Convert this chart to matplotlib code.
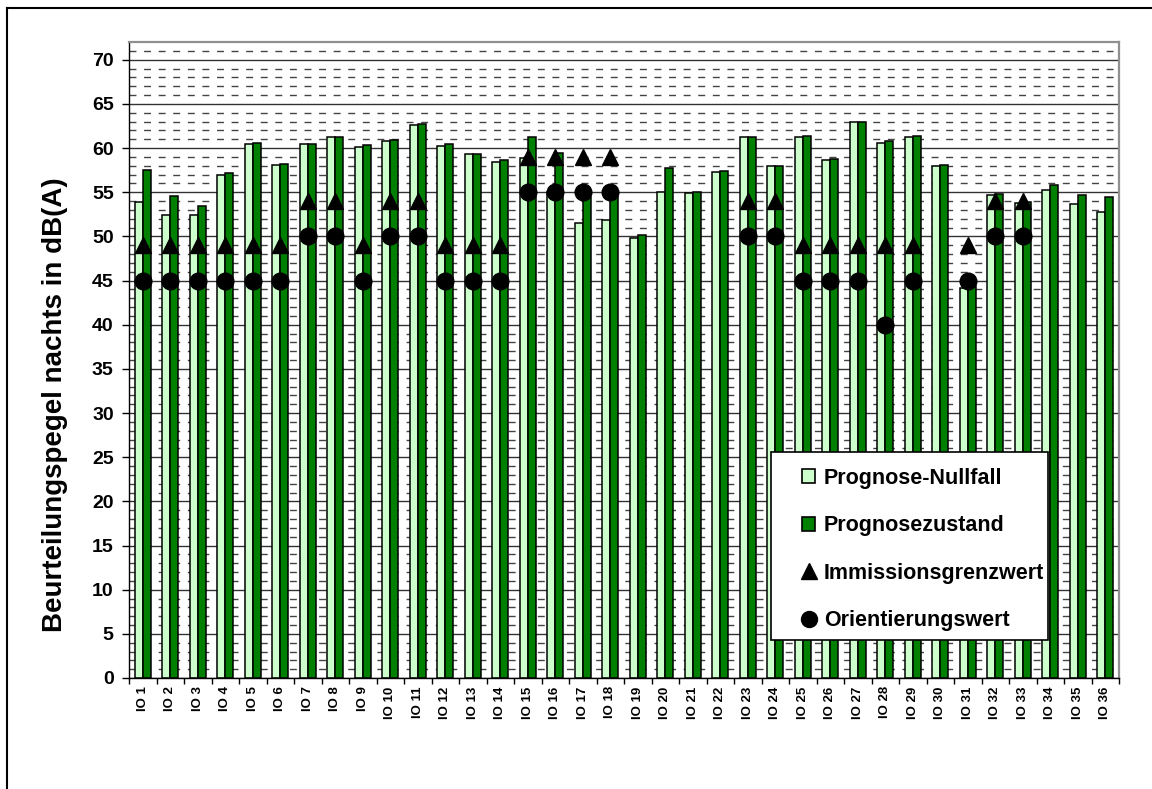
import matplotlib
matplotlib.use("Agg")
import numpy as np
import matplotlib.pyplot as plt
from matplotlib.lines import Line2D
from matplotlib.patches import Patch, Rectangle
from matplotlib.ticker import MultipleLocator, FixedLocator

plt.rcParams['font.family'] = ['Liberation Sans', 'DejaVu Sans']

# Immissionsorte
categories = [f"IO {i}" for i in range(1, 37)]

# Beurteilungspegel nachts in dB(A)
nullfall = [53.9, 52.4, 52.4, 57.0, 60.5, 58.1, 60.4, 61.2, 60.1, 60.8,
            62.6, 60.2, 59.3, 58.4, 58.9, 55.0, 51.5, 51.9, 49.8, 55.0,
            54.9, 57.3, 61.2, 58.0, 61.3, 58.6, 62.9, 60.6, 61.3, 58.0,
            44.2, 54.7, 53.8, 55.2, 53.7, 52.8]
zustand = [57.5, 54.6, 53.4, 57.2, 60.6, 58.2, 60.5, 61.3, 60.3, 60.9,
           62.7, 60.4, 59.3, 58.6, 61.2, 59.4, 54.5, 54.7, 50.1, 57.7,
           55.0, 57.4, 61.3, 58.0, 61.4, 58.8, 63.0, 60.8, 61.4, 58.1,
           44.4, 54.8, 53.9, 55.8, 54.7, 54.5]

nan = np.nan
grenzwert = [49, 49, 49, 49, 49, 49, 54, 54, 49, 54,
             54, 49, 49, 49, 59, 59, 59, 59, nan, nan,
             nan, nan, 54, 54, 49, 49, 49, 49, 49, nan,
             49, 54, 54, nan, nan, nan]
orientierung = [45, 45, 45, 45, 45, 45, 50, 50, 45, 50,
                50, 45, 45, 45, 55, 55, 55, 55, nan, nan,
                nan, nan, 50, 50, 45, 45, 45, 40, 45, nan,
                45, 50, 50, nan, nan, nan]

series_labels = ["Prognose-Nullfall", "Prognosezustand",
                 "Immissionsgrenzwert", "Orientierungswert"]

light_green = "#CCFFCC"
dark_green = "#008000"

W, H = 1152, 789
fig = plt.figure(figsize=(W / 100, H / 100), dpi=100)
fig.patch.set_facecolor("white")

# plot area in pixel coordinates
left, right, top, bottom = 129, 1119, 42, 678
ax = fig.add_axes([left / W, 1 - bottom / H, (right - left) / W, (bottom - top) / H])

x = np.arange(len(categories))
bw = 0.29
ax.bar(x - bw / 2, nullfall, width=bw, color=light_green, edgecolor="black",
       linewidth=1.1, zorder=2)
ax.bar(x + bw / 2, zustand, width=bw, color=dark_green, edgecolor="black",
       linewidth=1.1, zorder=2)
ax.plot(x, grenzwert, linestyle="none", marker="^", markersize=11,
        color="black", zorder=4)
ax.plot(x, orientierung, linestyle="none", marker="o", markersize=12,
        color="black", zorder=4)

ax.set_xlim(-0.5, len(categories) - 0.5)
ax.set_ylim(0, 72)

# y axis: major every 5 (solid grid), minor every 1 (dashed grid)
ax.yaxis.set_major_locator(MultipleLocator(5))
ax.yaxis.set_minor_locator(FixedLocator([v for v in range(1, 72) if v % 5 != 0]))
ax.set_axisbelow(True)
ax.grid(which="major", axis="y", color="#333333", linewidth=1.0, linestyle="-")
ax.grid(which="minor", axis="y", color="#444444", linewidth=1.0,
        linestyle=(0, (5, 5.5)))
ax.tick_params(axis="y", which="major", length=5, width=1, direction="out",
               labelsize=14, pad=6)
ax.tick_params(axis="y", which="minor", length=0)
for lab in ax.get_yticklabels():
    lab.set_fontweight("bold")

# x axis: labels at category centres, tick marks at boundaries
ax.set_xticks(x)
ax.set_xticklabels(categories, rotation=90, fontsize=9.5, fontweight="bold")
ax.xaxis.set_minor_locator(FixedLocator(np.arange(-0.5, len(categories), 1.0)))
ax.tick_params(axis="x", which="major", length=0, pad=6)
ax.tick_params(axis="x", which="minor", length=4, width=1, direction="out")

ax.set_ylabel("Beurteilungspegel nachts in dB(A)", fontsize=20, fontweight="bold")
ax.yaxis.set_label_coords(-0.062, 0.43)

for side in ("top", "right"):
    ax.spines[side].set_color("#909090")
    ax.spines[side].set_linewidth(1.6)
for side in ("left", "bottom"):
    ax.spines[side].set_color("black")
    ax.spines[side].set_linewidth(1.0)

# legend: frame box plus frameless entries
lx0, ly0, lx1, ly1 = 771, 452, 1048, 640
fig.add_artist(Rectangle((lx0 / W, 1 - ly1 / H), (lx1 - lx0) / W, (ly1 - ly0) / H,
                         transform=fig.transFigure, facecolor="white",
                         edgecolor="black", linewidth=1.2, zorder=9))
handles = [
    Patch(facecolor=light_green, edgecolor="black", linewidth=1.2),
    Patch(facecolor=dark_green, edgecolor="black", linewidth=1.2),
    Line2D([], [], linestyle="none", marker="^", markersize=11, color="black"),
    Line2D([], [], linestyle="none", marker="o", markersize=11.5, color="black"),
]
leg = fig.legend(handles, series_labels, loc="upper left",
                 bbox_to_anchor=(802 / W, 1 - 468 / H),
                 bbox_transform=fig.transFigure,
                 prop={"size": 15.5, "weight": "bold"},
                 frameon=False, borderpad=0, labelspacing=1.22,
                 handlelength=0.62, handleheight=0.62, handletextpad=0.4,
                 borderaxespad=0)
leg.set_zorder(10)

# outer chart frame
fig.add_artist(Line2D([7 / W, 7 / W], [0, 1 - 8 / H], color="black",
                      linewidth=1.5, transform=fig.transFigure))
fig.add_artist(Line2D([7 / W, 1], [1 - 8 / H, 1 - 8 / H], color="black",
                      linewidth=1.5, transform=fig.transFigure))

fig.savefig("out.png", dpi=100, facecolor="white")
